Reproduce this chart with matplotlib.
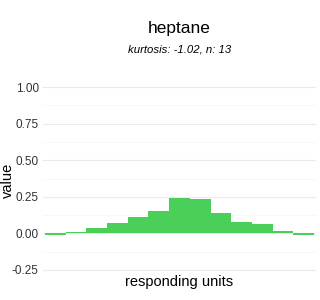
"""Bar profile of responding units for heptane."""

import matplotlib
matplotlib.use("Agg")
import matplotlib.pyplot as plt
import numpy as np

plt.rcParams["font.family"] = ["Liberation Sans", "DejaVu Sans"]

# values
units = list(range(1, 14))
values = [-0.012, 0.007, 0.034, 0.068, 0.11, 0.15, 0.24, 0.233,
          0.137, 0.075, 0.062, 0.018, -0.012]
yticks = [-0.25, 0.0, 0.25, 0.5, 0.75, 1.0]
title = "heptane"
subtitle = "kurtosis: -1.02, n: 13"

fig = plt.figure(figsize=(3.2, 3.0), dpi=100)
ax = fig.add_axes([43 / 320, 21 / 300, 273 / 320, 201 / 300])

ax.bar(units, values, width=1.0, color="#4ACF59", linewidth=0, zorder=3)

ax.set_xlim(0.4, 13.6)
ax.set_ylim(-0.3125, 1.0625)
ax.set_yticks(yticks)
ax.set_yticklabels([f"{t:.2f}" for t in yticks])
ax.set_yticks(np.array(yticks[:-1]) + 0.125, minor=True)
ax.set_xticks([])

ax.grid(axis="y", which="major", color="#EBEBEB", linewidth=0.8, zorder=0)
ax.grid(axis="y", which="minor", color="#F7F7F7", linewidth=0.6, zorder=0)
ax.tick_params(axis="y", which="both", length=0, labelsize=8.5,
               labelcolor="#333333", pad=3)
for s in ax.spines.values():
    s.set_visible(False)

fig.text(7.5 / 320, 1 - 180 / 300, "value", rotation=90, ha="center",
         va="center", fontsize=10.5)
fig.text(179.5 / 320, 1 - 282 / 300, "responding units", ha="center",
         va="center", fontsize=10.5)

fig.text(179.5 / 320, 1 - 28 / 300, title, ha="center", va="center", fontsize=12.5)
fig.text(179.5 / 320, 1 - 49 / 300, subtitle, ha="center", va="center",
         fontsize=8.2, style="italic")

fig.savefig("out.png", dpi=100, facecolor="white")
